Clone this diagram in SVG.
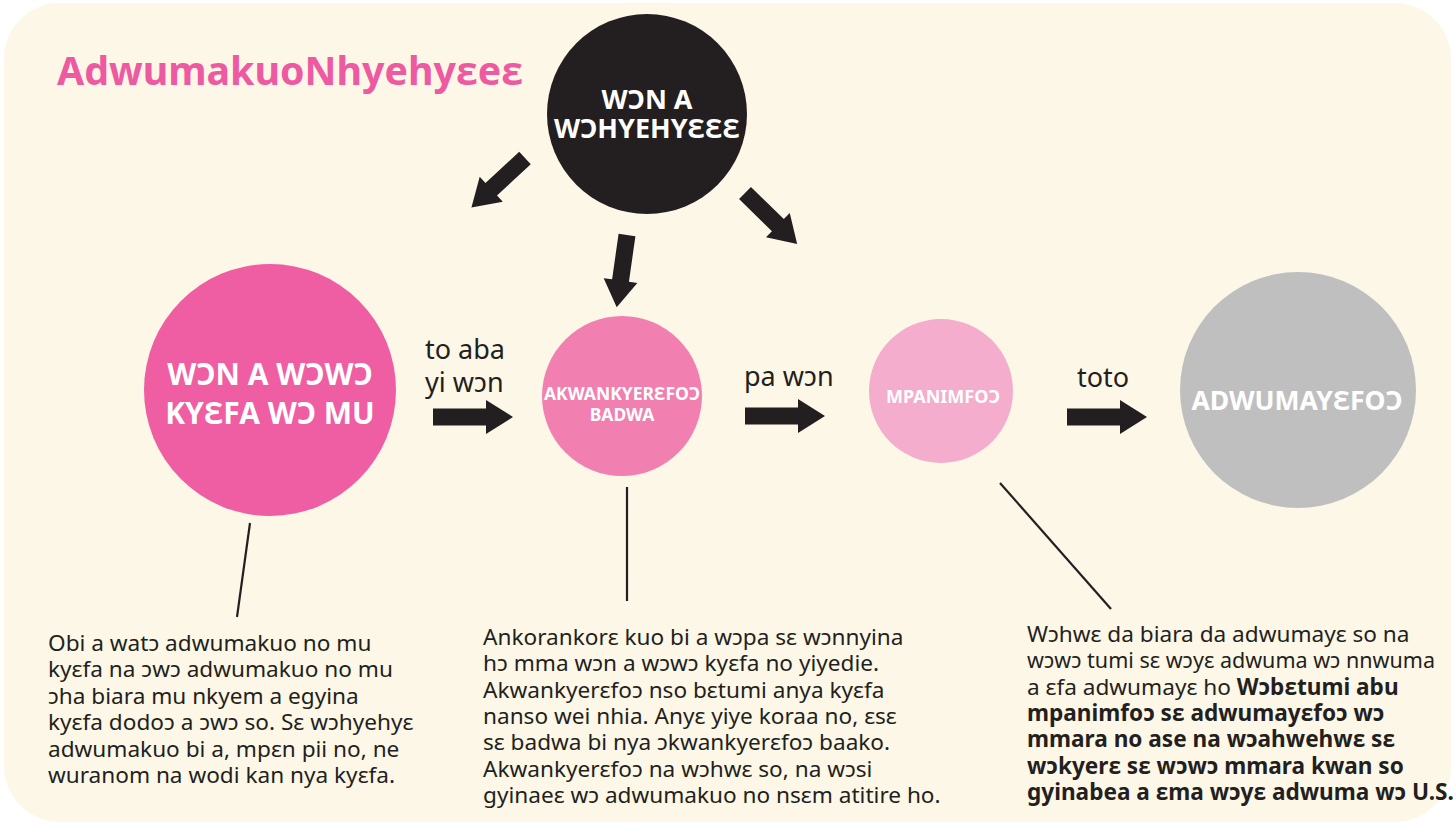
<svg xmlns="http://www.w3.org/2000/svg" xmlns:xlink="http://www.w3.org/1999/xlink" width="1454" height="825" viewBox="0 0 1454 825">
<style>
.bg{fill:#FDF7E7}
.ttl{font-family:"Noto Sans","Open Sans",sans-serif;font-weight:700;font-size:39.3px;fill:#EE5AA1}
.cap{font-family:"Noto Sans","Open Sans",sans-serif;font-weight:700;fill:#FFFFFF;text-anchor:middle}
.lbl{font-family:"Noto Sans","Open Sans",sans-serif;font-size:27px;fill:#231F20}
.body{font-family:"Noto Sans","Open Sans",sans-serif;font-size:22.6px;fill:#231F20}
.b{font-weight:700}
.arr{fill:#231F20}
.ln{stroke:#231F20;stroke-width:2.2;fill:none}
</style>
<defs>
<path id="harrow" d="M0,-8.5 H53 V-17 L80,0 L53,17 V8.5 H0 Z"/>
<path id="darrow" d="M0,-8.5 H46 V-17 L73,0 L46,17 V8.5 H0 Z"/>
</defs>
<rect width="1454" height="825" fill="#FFFFFF"/>
<rect class="bg" x="4" y="3" width="1447" height="819" rx="56" ry="56"/>
<text class="ttl" x="57" y="85">AdwumakuoNhyehyɛeɛ</text>

<g id="connectors">
<use xlink:href="#darrow" class="arr" transform="translate(525,158) rotate(137.2)"/>
<use xlink:href="#darrow" class="arr" transform="translate(627,235) rotate(98.1)"/>
<use xlink:href="#darrow" class="arr" transform="translate(745,193) rotate(44.4)"/>
<use xlink:href="#harrow" class="arr" transform="translate(433,417)"/>
<use xlink:href="#harrow" class="arr" transform="translate(745,416)"/>
<use xlink:href="#harrow" class="arr" transform="translate(1067,417)"/>
<text class="lbl" x="425" y="359">to aba</text>
<text class="lbl" x="425" y="392">yi wɔn</text>
<text class="lbl" x="744" y="386">pa wɔn</text>
<text class="lbl" x="1077" y="387">toto</text>
<line class="ln" x1="250" y1="523" x2="237" y2="617"/>
<line class="ln" x1="627" y1="487" x2="627" y2="601"/>
<line class="ln" x1="1000" y1="483" x2="1111" y2="609"/>
</g>

<g id="node-top">
<circle cx="647" cy="114" r="100" fill="#231F20"/>
<text class="cap" x="647" y="109" font-size="27">WƆN A</text>
<text class="cap" x="647" y="138" font-size="27">WƆHYEHYƐƐƐ</text>
</g>

<g id="node-workplace">
<circle cx="270" cy="390" r="126" fill="#EF5DA2"/>
<text class="cap" x="270" y="385" font-size="30">WƆN A WƆWƆ</text>
<text class="cap" x="270" y="424" font-size="30">KYƐFA WƆ MU</text>
</g>

<g id="node-advocates">
<circle cx="622" cy="396" r="80" fill="#F180B1"/>
<text class="cap" x="622" y="400" font-size="17.5">AKWANKYERƐFOƆ</text>
<text class="cap" x="622" y="421" font-size="17.5">BADWA</text>
</g>

<g id="node-inspectors">
<circle cx="941" cy="391" r="72" fill="#F4ADCD"/>
<text class="cap" x="943" y="403" font-size="18">MPANIMFOƆ</text>
</g>

<g id="node-employers">
<circle cx="1298" cy="390" r="118" fill="#BFBFBF"/>
<text class="cap" x="1297" y="410" font-size="26.5">ADWUMAYƐFOƆ</text>
</g>

<g id="note-workplace">
<text class="body">
<tspan x="48" y="651">Obi a watɔ adwumakuo no mu</tspan>
<tspan x="48" y="677.4">kyɛfa na ɔwɔ adwumakuo no mu</tspan>
<tspan x="48" y="703.8">ɔha biara mu nkyem a egyina</tspan>
<tspan x="48" y="730.2">kyɛfa dodoɔ a ɔwɔ so. Sɛ wɔhyehyɛ</tspan>
<tspan x="48" y="756.6">adwumakuo bi a, mpɛn pii no, ne</tspan>
<tspan x="48" y="783">wuranom na wodi kan nya kyɛfa.</tspan>
</text>
</g>

<g id="note-advocates">
<text class="body">
<tspan x="483" y="645">Ankorankorɛ kuo bi a wɔpa sɛ wɔnnyina</tspan>
<tspan x="483" y="671.3">hɔ mma wɔn a wɔwɔ kyɛfa no yiyedie.</tspan>
<tspan x="483" y="697.6">Akwankyerɛfoɔ nso bɛtumi anya kyɛfa</tspan>
<tspan x="483" y="723.9">nanso wei nhia. Anyɛ yiye koraa no, ɛsɛ</tspan>
<tspan x="483" y="750.2">sɛ badwa bi nya ɔkwankyerɛfoɔ baako.</tspan>
<tspan x="483" y="776.5">Akwankyerɛfoɔ na wɔhwɛ so, na wɔsi</tspan>
<tspan x="483" y="802.8">gyinaeɛ wɔ adwumakuo no nsɛm atitire ho.</tspan>
</text>
</g>

<g id="note-inspectors">
<text class="body" x="1027" y="642">Wɔhwɛ da biara da adwumayɛ so na</text>
<text class="body" x="1027" y="668.3" textLength="408" lengthAdjust="spacingAndGlyphs">wɔwɔ tumi sɛ wɔyɛ adwuma wɔ nnwuma</text>
<text class="body">
<tspan x="1027" y="694.6">a ɛfa adwumayɛ ho <tspan class="b">Wɔbɛtumi abu</tspan></tspan>
<tspan x="1027" y="720.9" class="b">mpanimfoɔ sɛ adwumayɛfoɔ wɔ</tspan>
<tspan x="1027" y="747.2" class="b">mmara no ase na wɔahwehwɛ sɛ</tspan>
<tspan x="1027" y="773.5" class="b">wɔkyerɛ sɛ wɔwɔ mmara kwan so</tspan>
<tspan x="1027" y="799.8" class="b">gyinabea a ɛma wɔyɛ adwuma wɔ U.S.</tspan>
</text>
</g>
</svg>
